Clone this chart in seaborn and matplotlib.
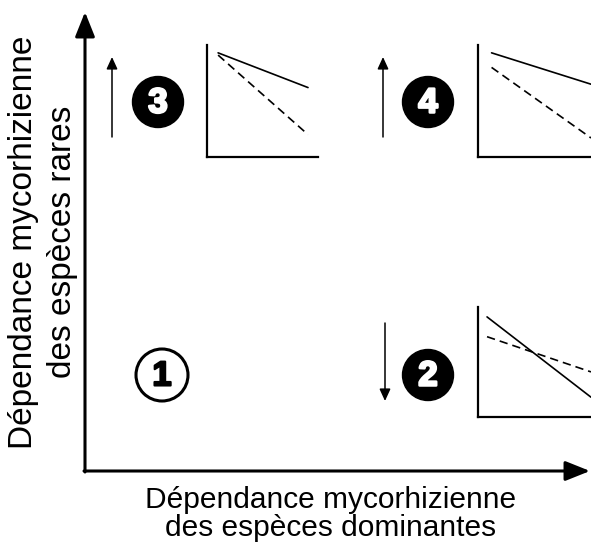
import pandas as pd
import matplotlib.pyplot as plt
import matplotlib.patheffects as pe
import seaborn as sns
from matplotlib.patches import Circle

# mini panels: x positions and y of the two lines (solid = rare, dashed = dominant)
p3_x = [0.10, 0.91]
p3_solid = [0.93, 0.62]
p3_dashed = [0.91, 0.20]

p4_x = [0.12, 1.00]
p4_solid = [0.93, 0.65]
p4_dashed = [0.80, 0.17]

p2_x = [0.08, 1.00]
p2_solid = [0.91, 0.18]
p2_dashed = [0.73, 0.41]

xlabel = "Dépendance mycorhizienne\ndes espèces dominantes"
ylabel = "Dépendance mycorhizienne\ndes espèces rares"

sns.set_theme(style="white")
plt.rcParams['font.family'] = ['Liberation Sans', 'DejaVu Sans']
plt.rcParams['text.color'] = 'black'

W, H = 591, 549
fig = plt.figure(figsize=(W / 100, H / 100), dpi=100)

# main canvas in pixel units
ax = fig.add_axes([0, 0, 1, 1])
ax.set_xlim(0, W)
ax.set_ylim(H, 0)
ax.axis('off')

big = dict(arrowstyle='-|>,head_length=1.0,head_width=0.4', mutation_scale=15,
           color='black', lw=2.2, shrinkA=0, shrinkB=0)
ax.annotate("", xy=(85, 12), xytext=(85, 472), arrowprops=big)
ax.annotate("", xy=(590, 471), xytext=(84, 471), arrowprops=big)

small = dict(arrowstyle='-|>,head_length=1.2,head_width=0.55', mutation_scale=6,
             color='black', lw=1.1, shrinkA=0, shrinkB=0)
ax.annotate("", xy=(112, 57), xytext=(112, 137), arrowprops=small)
ax.annotate("", xy=(383, 57), xytext=(383, 137), arrowprops=small)
ax.annotate("", xy=(385, 401), xytext=(385, 323), arrowprops=small)

# numbered circles
for num, (cx, cy) in zip(["3", "4", "2"], [(158, 102), (428, 102), (428, 375)]):
    ax.add_patch(Circle((cx, cy), 25.5, color='black'))
    ax.text(cx, cy + 1, num, color='white', fontsize=25, fontweight='bold',
            ha='center', va='center',
            path_effects=[pe.withStroke(linewidth=1.8, foreground='white')])
ax.add_patch(Circle((162, 375), 26, facecolor='white', edgecolor='black', lw=2.2))
ax.text(162, 376, "1", color='black', fontsize=25, fontweight='bold',
        ha='center', va='center',
        path_effects=[pe.withStroke(linewidth=1.5, foreground='black')])


def mini(rect, xs, solid, dashed):
    df = pd.DataFrame({
        'x': xs + xs,
        'y': solid + dashed,
        'kind': ['solid'] * len(xs) + ['dashed'] * len(xs),
    })
    m = fig.add_axes([rect[0] / W, 1 - (rect[1] + rect[3]) / H, rect[2] / W, rect[3] / H])
    sns.lineplot(data=df, x='x', y='y', style='kind', color='black', lw=1.2,
                 dashes={'solid': '', 'dashed': (5, 3)}, legend=False, ax=m)
    m.set_xlim(0, 1)
    m.set_ylim(0, 1)
    m.set_xticks([])
    m.set_yticks([])
    m.set_xlabel("")
    m.set_ylabel("")
    m.patch.set_alpha(0)
    for s in ['top', 'right']:
        m.spines[s].set_visible(False)
    for s in ['left', 'bottom']:
        m.spines[s].set_color('black')
        m.spines[s].set_linewidth(1.6)


mini((207, 45, 111, 112), p3_x, p3_solid, p3_dashed)
mini((478, 45, 113, 112), p4_x, p4_solid, p4_dashed)
mini((478, 307, 113, 110), p2_x, p2_solid, p2_dashed)

fig.text(331 / W, 1 - 514 / H, xlabel, ha='center', va='center', fontsize=21.5,
         linespacing=1.0, color='black')
fig.text(43 / W, 1 - 242 / H, ylabel, ha='center', va='center', fontsize=24,
         rotation=90, linespacing=1.3, color='black')

fig.savefig("out.png", dpi=100)
